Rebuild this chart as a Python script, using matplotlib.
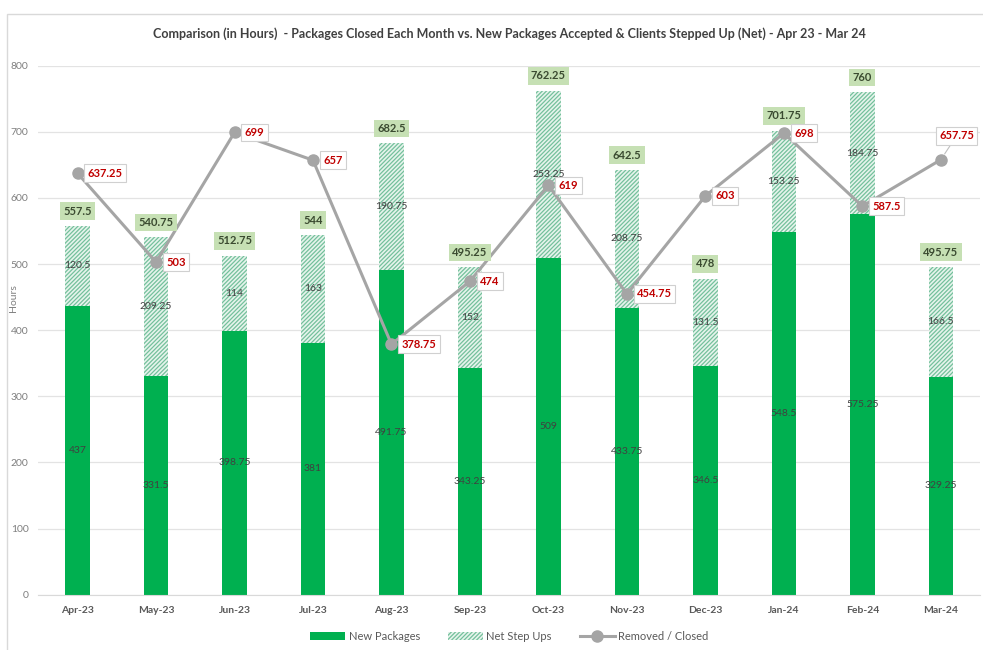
import numpy as np
import matplotlib.pyplot as plt
from matplotlib.patches import Rectangle

plt.rcParams['font.family'] = ['Lato', 'DejaVu Sans']
plt.rcParams['hatch.linewidth'] = 0.9

months = ["Apr-23", "May-23", "Jun-23", "Jul-23", "Aug-23", "Sep-23",
          "Oct-23", "Nov-23", "Dec-23", "Jan-24", "Feb-24", "Mar-24"]
new_packages = [437, 331.5, 398.75, 381, 491.75, 343.25,
                509, 433.75, 346.5, 548.5, 575.25, 329.25]
net_step_ups = [120.5, 209.25, 114, 163, 190.75, 152,
                253.25, 208.75, 131.5, 153.25, 184.75, 166.5]
totals = [557.5, 540.75, 512.75, 544, 682.5, 495.25,
          762.25, 642.5, 478, 701.75, 760, 495.75]
removed_closed = [637.25, 503, 699, 657, 378.75, 474,
                  619, 454.75, 603, 698, 587.5, 657.75]


def fmt(v):
    return ("%g" % v)


fig = plt.figure(figsize=(9.83, 6.5), dpi=100)
# outer chart frame like the excel chart border
fig.patches.append(Rectangle((0.007, -0.01), 1.2, 0.988, transform=fig.transFigure,
                             fill=False, edgecolor="#d9d9d9", linewidth=1.0))
ax = fig.add_axes([0.039, 0.085, 0.958, 0.814])

x = np.arange(len(months))
w = 0.31
ax.bar(x, new_packages, w, color="#00b050", label="New Packages", zorder=2)
ax.bar(x, net_step_ups, w, bottom=new_packages, color="#e6f4ec",
       edgecolor="#74c09c", hatch="////////", linewidth=0, label="Net Step Ups", zorder=2)
ax.plot(x, removed_closed, color="#a5a5a5", linewidth=2.2, marker="o",
        markersize=8, markerfacecolor="#a5a5a5", markeredgecolor="#a5a5a5",
        label="Removed / Closed", zorder=4)

red_box = dict(boxstyle="square,pad=0.3", facecolor="white", edgecolor="#d0d0d0",
               linewidth=0.8)

# data labels
n = len(months)
for i in range(n):
    ax.text(x[i], new_packages[i] / 2, fmt(new_packages[i]), ha="center",
            va="center", fontsize=7.5, color="#404040", zorder=3)
    ax.text(x[i], new_packages[i] + net_step_ups[i] / 2, fmt(net_step_ups[i]),
            ha="center", va="center", fontsize=7.5, color="#404040", zorder=3)
    ax.text(x[i], totals[i] + 14, fmt(totals[i]), ha="center", va="bottom",
            fontsize=8, fontweight="bold", color="#3a4a30", zorder=5,
            bbox=dict(boxstyle="square,pad=0.3", facecolor="#c6e0b4", edgecolor="none"))
    if i == n - 1:
        # last label sits above-right with a leader line
        ax.annotate(fmt(removed_closed[i]), xy=(x[i], removed_closed[i]),
                    xytext=(x[i] + 0.2, removed_closed[i] + 36), ha="center",
                    va="center", fontsize=8, fontweight="bold", color="#c00000",
                    zorder=6, bbox=red_box,
                    arrowprops=dict(arrowstyle="-", color="#bfbfbf", lw=0.8,
                                    shrinkA=0, shrinkB=5))
    else:
        ax.text(x[i] + 0.13, removed_closed[i], fmt(removed_closed[i]), ha="left",
                va="center", fontsize=8, fontweight="bold", color="#c00000", zorder=6,
                bbox=red_box)

ax.set_xlim(-0.5, n - 0.5)
ax.set_ylim(0, 800)
ax.set_yticks(np.arange(0, 801, 100))
ax.set_xticks(x)
ax.set_xticklabels(months, fontsize=7.5, fontweight="bold", color="#595959")
ax.tick_params(axis="y", labelsize=7.5, labelcolor="#7f7f7f", length=0, pad=7)
ax.tick_params(axis="x", length=0, pad=8)
ax.grid(axis="y", color="#e3e3e3", linewidth=0.9, zorder=0)
ax.set_axisbelow(True)
for s in ["top", "right", "left"]:
    ax.spines[s].set_visible(False)
ax.spines["bottom"].set_color("#d9d9d9")
ax.set_ylabel("Hours", fontsize=7.5, color="#7f7f7f")
ax.yaxis.set_label_coords(-0.022, 0.56)

ax.set_title("Comparison (in Hours)  - Packages Closed Each Month vs. New Packages Accepted & Clients Stepped Up (Net) - Apr 23 - Mar 24",
             fontsize=9, fontweight="bold", color="#404040", pad=20)

handles, labels = ax.get_legend_handles_labels()
order = [1, 2, 0]
ax.legend([handles[k] for k in order], [labels[k] for k in order],
          loc="upper center", bbox_to_anchor=(0.5, -0.05), ncol=3, frameon=False,
          fontsize=8, labelcolor="#595959", handlelength=3.2, columnspacing=2.5,
          handletextpad=0.3)

fig.savefig("out.png", dpi=100)
